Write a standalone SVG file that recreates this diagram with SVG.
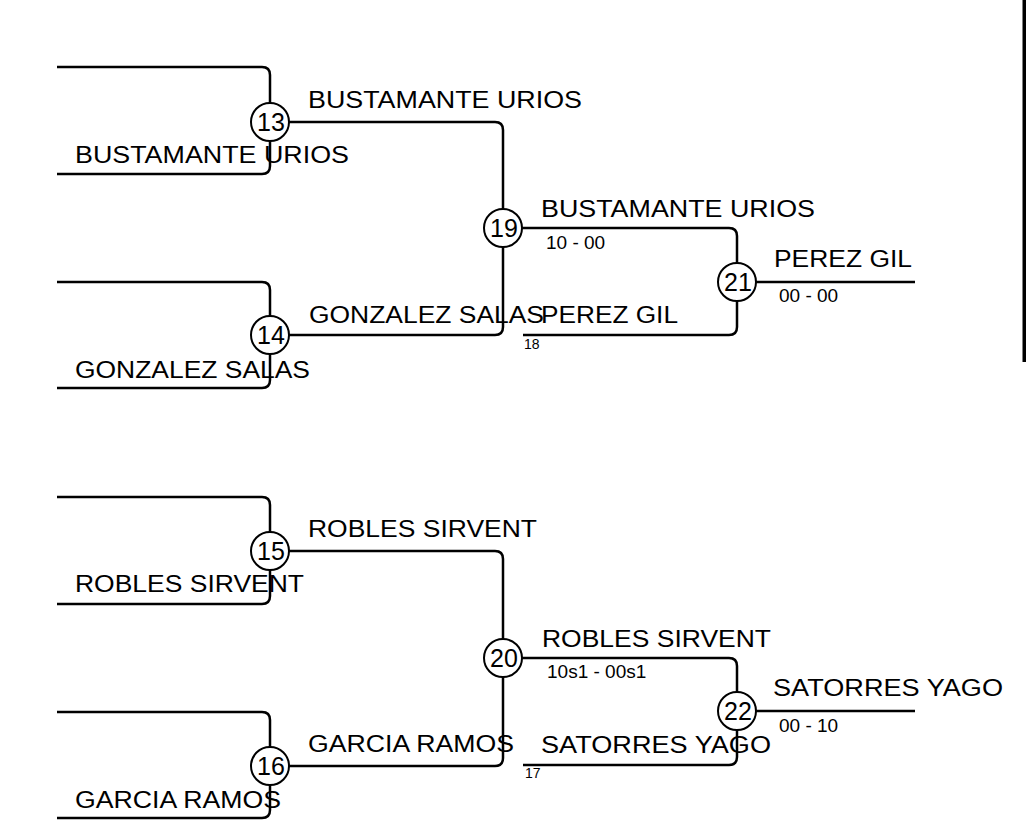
<svg xmlns="http://www.w3.org/2000/svg" width="1026" height="820" viewBox="0 0 1026 820">
<style>
.c{fill:none;stroke:#000;stroke-width:2.5;stroke-linejoin:round}
.n circle{fill:#fff;stroke:#000;stroke-width:2}
.n text{font-family:"Liberation Sans",Arial,sans-serif;font-size:25px;text-anchor:middle;fill:#000}
.L{font-family:"Liberation Sans",Arial,sans-serif;font-size:23.5px;fill:#000}
.s{font-family:"Liberation Sans",Arial,sans-serif;font-size:19px;fill:#000}
.t{font-family:"Liberation Sans",Arial,sans-serif;font-size:14px;fill:#000}
</style>
<rect width="1026" height="820" fill="#fff"/>
<rect x="1022.5" y="0" width="3.5" height="362" fill="#000"/>
<g id="connectors" class="c">
<path d="M57,67 H262 Q270,67 270,75 V122"/>
<path d="M57,174 H262 Q270,174 270,166 V122"/>
<path d="M57,282 H262 Q270,282 270,290 V335"/>
<path d="M57,388 H262 Q270,388 270,380 V335"/>
<path d="M57,497 H262 Q270,497 270,505 V551"/>
<path d="M57,604 H262 Q270,604 270,596 V551"/>
<path d="M57,712 H262 Q270,712 270,720 V766"/>
<path d="M57,818 H262 Q270,818 270,810 V766"/>
<path d="M289,122 H495 Q503,122 503,130 V228"/>
<path d="M289,335 H495 Q503,335 503,327 V228"/>
<path d="M289,551 H495 Q503,551 503,559 V658"/>
<path d="M289,766 H495 Q503,766 503,758 V658"/>
<path d="M522,228 H729 Q737,228 737,236 V282"/>
<path d="M523,335 H729 Q737,335 737,327 V282"/>
<path d="M522,658 H729 Q737,658 737,666 V711"/>
<path d="M523,765 H729 Q737,765 737,757 V711"/>
<path d="M756,282 H915"/>
<path d="M756,711 H915"/>
</g>
<g id="labels">
<text class="L" x="308" y="108" textLength="274" lengthAdjust="spacingAndGlyphs">BUSTAMANTE URIOS</text>
<text class="L" x="75" y="163" textLength="274" lengthAdjust="spacingAndGlyphs">BUSTAMANTE URIOS</text>
<text class="L" x="309" y="323" textLength="235" lengthAdjust="spacingAndGlyphs">GONZALEZ SALAS</text>
<text class="L" x="75" y="378" textLength="235" lengthAdjust="spacingAndGlyphs">GONZALEZ SALAS</text>
<text class="L" x="541" y="217" textLength="274" lengthAdjust="spacingAndGlyphs">BUSTAMANTE URIOS</text>
<text class="s" x="546" y="249">10 - 00</text>
<text class="L" x="541" y="323" textLength="137" lengthAdjust="spacingAndGlyphs">PEREZ GIL</text>
<text class="t" x="524" y="349">18</text>
<text class="L" x="774" y="267" textLength="138" lengthAdjust="spacingAndGlyphs">PEREZ GIL</text>
<text class="s" x="779" y="302">00 - 00</text>
<text class="L" x="308" y="537" textLength="229" lengthAdjust="spacingAndGlyphs">ROBLES SIRVENT</text>
<text class="L" x="75" y="592" textLength="229" lengthAdjust="spacingAndGlyphs">ROBLES SIRVENT</text>
<text class="L" x="308" y="752" textLength="206" lengthAdjust="spacingAndGlyphs">GARCIA RAMOS</text>
<text class="L" x="75" y="808" textLength="206" lengthAdjust="spacingAndGlyphs">GARCIA RAMOS</text>
<text class="L" x="542" y="647" textLength="229" lengthAdjust="spacingAndGlyphs">ROBLES SIRVENT</text>
<text class="s" x="547" y="678">10s1 - 00s1</text>
<text class="L" x="541" y="753" textLength="230" lengthAdjust="spacingAndGlyphs">SATORRES YAGO</text>
<text class="t" x="525" y="778">17</text>
<text class="L" x="773" y="696" textLength="230" lengthAdjust="spacingAndGlyphs">SATORRES YAGO</text>
<text class="s" x="779" y="732">00 - 10</text>
</g>
<g id="n13" class="n"><circle cx="270" cy="122" r="19"/><text x="271" y="131">13</text></g>
<g id="n14" class="n"><circle cx="270" cy="335" r="19"/><text x="271" y="344">14</text></g>
<g id="n15" class="n"><circle cx="270" cy="551" r="19"/><text x="271" y="560">15</text></g>
<g id="n16" class="n"><circle cx="270" cy="766" r="19"/><text x="271" y="775">16</text></g>
<g id="n19" class="n"><circle cx="503" cy="228" r="19"/><text x="504" y="237">19</text></g>
<g id="n20" class="n"><circle cx="503" cy="658" r="19"/><text x="504" y="667">20</text></g>
<g id="n21" class="n"><circle cx="737" cy="282" r="19"/><text x="738" y="291">21</text></g>
<g id="n22" class="n"><circle cx="737" cy="711" r="19"/><text x="738" y="720">22</text></g>
</svg>
